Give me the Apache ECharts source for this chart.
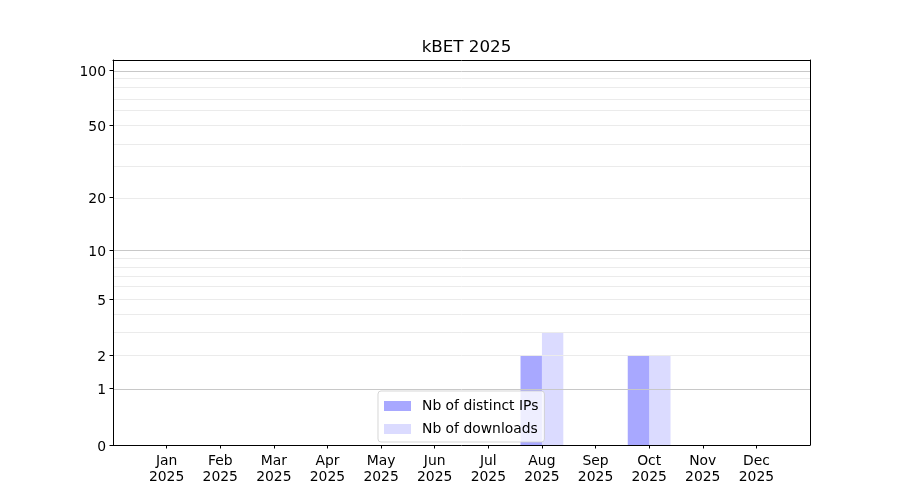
<!DOCTYPE html>
<html>
<head>
<meta charset="utf-8">
<script src="https://cdn.jsdelivr.net/npm/echarts@6/dist/echarts.min.js"></script>
<style>html,body{margin:0;padding:0;background:#fff}#c{width:900px;height:500px}</style>
</head>
<body>
<div id="c"></div>
<script>
const months = ['Jan','Feb','Mar','Apr','May','Jun','Jul','Aug','Sep','Oct','Nov','Dec'];
const year = '2025';
const distinctIPs = [0,0,0,0,0,0,0,2,0,2,0,0];
const downloads   = [0,0,0,0,0,0,0,3,0,2,0,0];
const yTicks = [0,1,2,5,10,20,50,100];
const majorGrid = [1,10,100];
const minorGrid = [2,3,4,5,6,7,8,9,20,30,40,50,60,70,80,90];
const yMaxValue = 113.2;

const f = v => Math.log10(v + 1);
const monthIdx = months.map((m,i)=>i);
const font = 'DejaVu Sans';
const frameAxis = {axisLine:{show:true, onZero:false, lineStyle:{color:'#000', width:1}},
  axisTick:{show:false}, axisLabel:{show:false}, splitLine:{show:false}, z:6};

const chart = echarts.init(document.getElementById('c'), null, {renderer:'canvas'});
chart.setOption({
  animation:false,
  textStyle:{fontFamily:font},
  title:{text:'kBET ' + year, left:461.5, textAlign:'center', top:34,
    textStyle:{fontFamily:font, fontSize:16.7, fontWeight:'normal', color:'#000'}},
  grid:{left:113, right:90, top:60, bottom:55, show:false},
  legend:{
    orient:'vertical', left:378, top:391,
    itemWidth:27, itemHeight:10, itemGap:9,
    padding:[8,6,6,6],
    backgroundColor:'rgba(255,255,255,0.8)', borderColor:'rgba(204,204,204,0.8)', borderWidth:1, borderRadius:3,
    textStyle:{fontFamily:font, fontSize:13.9, color:'#000', padding:[0,0,0,6]},
    data:[{name:'Nb of distinct IPs', icon:'rect'},{name:'Nb of downloads', icon:'rect'}]
  },
  xAxis:[{
    type:'value', min:-1, max:12, z:6,
    axisLine:{show:true, onZero:false, lineStyle:{color:'#000', width:1}},
    axisTick:{show:true, customValues:monthIdx, length:3.5, lineStyle:{color:'#000'}},
    axisLabel:{customValues:monthIdx, margin:8, color:'#000', fontFamily:font, fontSize:13.9, lineHeight:16,
      formatter:v => months[Math.round(v)] + '\n' + year},
    splitLine:{show:false}
  }, Object.assign({type:'value', position:'top', min:-1, max:12}, frameAxis)],
  yAxis:[{
    type:'value', min:0, max:f(yMaxValue), z:6,
    axisLine:{show:true, onZero:false, lineStyle:{color:'#000', width:1}},
    axisTick:{show:true, customValues:yTicks.map(f), length:3.5, lineStyle:{color:'#000'}},
    axisLabel:{customValues:yTicks.map(f), margin:7, color:'#000', fontFamily:font, fontSize:13.9,
      rich:{t:{fontFamily:font, fontSize:13.9, color:'#000', padding:[4,0,0,0]}},
      formatter:v => { let best=yTicks[0]; for (const t of yTicks) if (Math.abs(f(t)-v) < Math.abs(f(best)-v)) best=t; return '{t|' + best + '}'; }},
    splitLine:{show:false}
  }, Object.assign({type:'value', position:'right', min:0, max:f(yMaxValue)}, frameAxis)],
  series:[
    {
      name:'grid', type:'line', data:[], silent:true, z:1,
      markLine:{silent:true, symbol:'none', label:{show:false}, animation:false,
        data: minorGrid.map(v=>({yAxis:f(v), lineStyle:{color:'#ebebeb', width:1, type:'solid'}}))
          .concat(majorGrid.map(v=>({yAxis:f(v), lineStyle:{color:'#c8c8c8', width:1, type:'solid'}})))
      }
    },
    {
      name:'Nb of distinct IPs', type:'bar', barWidth:21.4, barGap:'0%', z:2,
      itemStyle:{color:'rgba(0,0,255,0.34)'},
      data: distinctIPs.map((v,i)=>[i, f(v)])
    },
    {
      name:'Nb of downloads', type:'bar', barWidth:21.4, barGap:'0%', z:2,
      itemStyle:{color:'rgba(0,0,255,0.14)'},
      data: downloads.map((v,i)=>[i, f(v)])
    }
  ]
});
</script>
</body>
</html>
